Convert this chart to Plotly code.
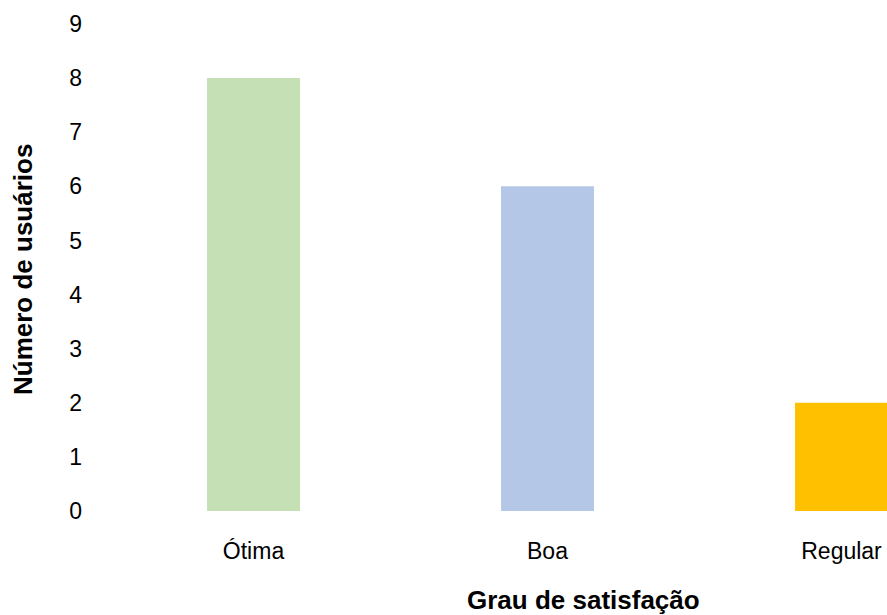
import plotly.graph_objects as go

categories = ["Ótima", "Boa", "Regular"]
values = [8, 6, 2]
colors = ["#C5E0B4", "#B4C7E7", "#FFC000"]
y_ticks = list(range(0, 10))
x_title = "Grau de satisfação"
y_title = "Número de usuários"

W, H = 887, 615
ml, mr, mt, mb = 106, 0, 24, 104
plot_w = W - ml - mr
plot_h = H - mt - mb
cat_px = 294.0

fig = go.Figure(go.Bar(
    x=list(range(len(categories))),
    y=values,
    marker=dict(color=colors, line=dict(width=0)),
    width=0.316,
    hoverinfo="skip",
))

x0 = -0.5 - 0.5 / cat_px

fig.update_layout(
    width=W, height=H,
    margin=dict(l=ml, r=mr, t=mt, b=mb, pad=0),
    paper_bgcolor="white", plot_bgcolor="white",
    showlegend=False,
    font=dict(family="Liberation Sans, Arial, sans-serif", color="#000000"),
    xaxis=dict(
        range=[x0, x0 + plot_w / cat_px],
        tickmode="array",
        tickvals=list(range(len(categories))),
        ticktext=categories,
        showgrid=False, zeroline=False, showline=False,
        ticks="", ticklabelstandoff=24,
        tickfont=dict(size=23, color="#000000"),
        fixedrange=True,
    ),
    yaxis=dict(
        range=[0, 9],
        tickmode="array",
        tickvals=y_ticks,
        ticktext=[str(v) for v in y_ticks],
        showgrid=False, zeroline=False, showline=False,
        ticks="", ticklabelstandoff=23,
        tickfont=dict(size=23, color="#000000"),
        fixedrange=True,
    ),
    annotations=[
        dict(text="<b>" + x_title + "</b>", xref="paper", yref="paper",
             x=(583 - ml) / plot_w, y=-(600 - (H - mb)) / plot_h,
             xanchor="center", yanchor="middle", showarrow=False,
             font=dict(size=26, color="#000000")),
        dict(text="<b>" + y_title + "</b>", xref="paper", yref="paper",
             x=-(ml - 23) / plot_w, y=1 - (270 - mt) / plot_h,
             xanchor="center", yanchor="middle", textangle=-90, showarrow=False,
             font=dict(size=26, color="#000000")),
    ],
)

fig.write_html(
    "out.html",
    config={"displayModeBar": False},
    post_script="document.body.style.margin='0';document.body.style.overflow='hidden';",
)
